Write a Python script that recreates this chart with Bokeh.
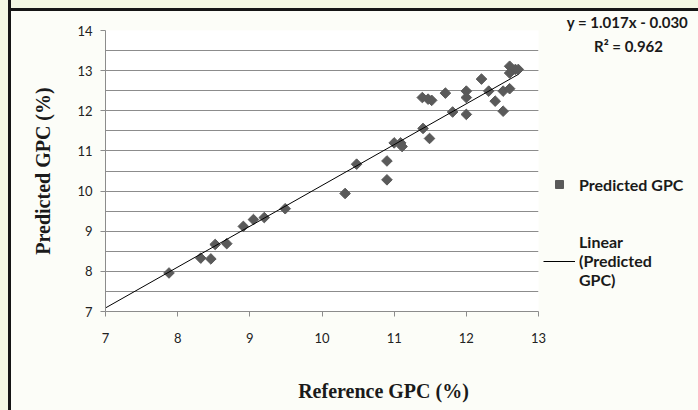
from bokeh.plotting import figure
from bokeh.models import Range1d, SingleIntervalTicker, Label, Legend, LegendItem
from bokeh.embed import file_html
from bokeh.resources import INLINE

# ---- data ----
reference_gpc = [7.88, 8.32, 8.46, 8.52, 8.68, 8.91, 9.05, 9.20, 9.49, 10.32,
                 10.48, 10.90, 10.90, 11.00, 11.09, 11.11, 11.40, 11.49, 11.39, 11.47,
                 11.52, 11.71, 11.81, 12.00, 12.00, 12.00, 12.21, 12.31, 12.40, 12.51,
                 12.51, 12.60, 12.60, 12.68, 12.72, 12.60]
predicted_gpc = [7.96, 8.33, 8.31, 8.67, 8.69, 9.12, 9.29, 9.34, 9.56, 9.94,
                 10.67, 10.75, 10.28, 11.20, 11.20, 11.11, 11.56, 11.31, 12.33, 12.29,
                 12.26, 12.44, 11.97, 12.49, 12.33, 11.91, 12.79, 12.49, 12.24, 11.99,
                 12.49, 12.55, 13.11, 13.03, 13.03, 12.94]
slope = 1.017
intercept = -0.030
r_squared = 0.962
trend_x = [7.0, max(reference_gpc)]
trend_y = [slope * v + intercept for v in trend_x]

SANS = "Lato"
SERIF = "Liberation Serif"
GRID = "#8c8c8c"
INK = "#1a1a1a"
CREAM = "#f3f7e3"

page_bg = (f"linear-gradient(to right, {CREAM} 0px, {CREAM} 8px, #151515 8px, #151515 11px, transparent 11px) no-repeat, "
           f"linear-gradient(to bottom, {CREAM} 0px, {CREAM} 8px, #151515 8px, #151515 11px, transparent 11px) no-repeat, "
           "#fcfdf8")

p = figure(width=698, height=410, frame_width=433, frame_height=281,
           x_range=Range1d(7, 13), y_range=Range1d(7, 14),
           output_backend="svg", toolbar_location=None,
           min_border_left=105, min_border_right=160, min_border_top=30, min_border_bottom=99,
           border_fill_color=None, background_fill_color="white",
           outline_line_color=None, styles={"background": page_bg})

p.xaxis.ticker = SingleIntervalTicker(interval=1, num_minor_ticks=0)
yt = SingleIntervalTicker(interval=1, num_minor_ticks=2)
p.yaxis.ticker = yt
p.ygrid.ticker = yt
p.xgrid.grid_line_color = None
p.ygrid.grid_line_color = GRID
p.ygrid.minor_grid_line_color = GRID

for ax in (p.xaxis[0], p.yaxis[0]):
    ax.axis_line_color = GRID
    ax.major_tick_line_color = GRID
    ax.major_tick_out = 5
    ax.major_tick_in = 0
    ax.minor_tick_line_color = None
    ax.major_label_text_font = SANS
    ax.major_label_text_font_size = "13px"
    ax.major_label_text_color = "#222222"
p.xaxis.major_label_standoff = 16
p.yaxis.major_label_standoff = 8
p.yaxis.axis_label = "Predicted GPC (%)"
p.yaxis.axis_label_text_font = SERIF
p.yaxis.axis_label_text_font_style = "bold"
p.yaxis.axis_label_text_font_size = "20px"
p.yaxis.axis_label_text_color = INK
p.yaxis.axis_label_standoff = 20

sc = p.scatter(reference_gpc, predicted_gpc, marker="square", angle=0.7854, size=7.5,
               color="#5a5a5a")
ln = p.line(trend_x, trend_y, line_color="black", line_width=1)

# texts placed in the bottom side panels
def lab(text, x, y, font, size):
    return Label(x=x, y=y, x_units="screen", y_units="screen",
                 text=text, text_align="center", text_baseline="middle",
                 text_font=font, text_font_style="bold", text_font_size=size,
                 text_color=INK)

p.add_layout(lab("Reference GPC (%)", 278, -23, SERIF, "20px"), "below")
p.add_layout(lab(f"y = {slope:.3f}x - {abs(intercept):.3f}", 522, 364, SANS, "15px"), "below")
p.add_layout(lab(f"R\u00b2 = {r_squared:.3f}", 523, 358, SANS, "15px"), "below")

# legend in the right panel; a blank title pushes the items down
legend = Legend(items=[LegendItem(label="Predicted GPC", renderers=[sc]),
                       LegendItem(label="Linear\n(Predicted\nGPC)", renderers=[ln])],
                location="top_left", title=" ", title_text_font_size="10px",
                title_standoff=128, glyph_width=32, glyph_height=20,
                label_standoff=4, padding=0, margin=5, spacing=38,
                border_line_color=None, background_fill_alpha=0,
                label_text_font=SANS, label_text_font_style="bold",
                label_text_font_size="16px", label_text_color=INK)
p.add_layout(legend, "right")

open("out.html", "w").write(file_html(p, INLINE))
